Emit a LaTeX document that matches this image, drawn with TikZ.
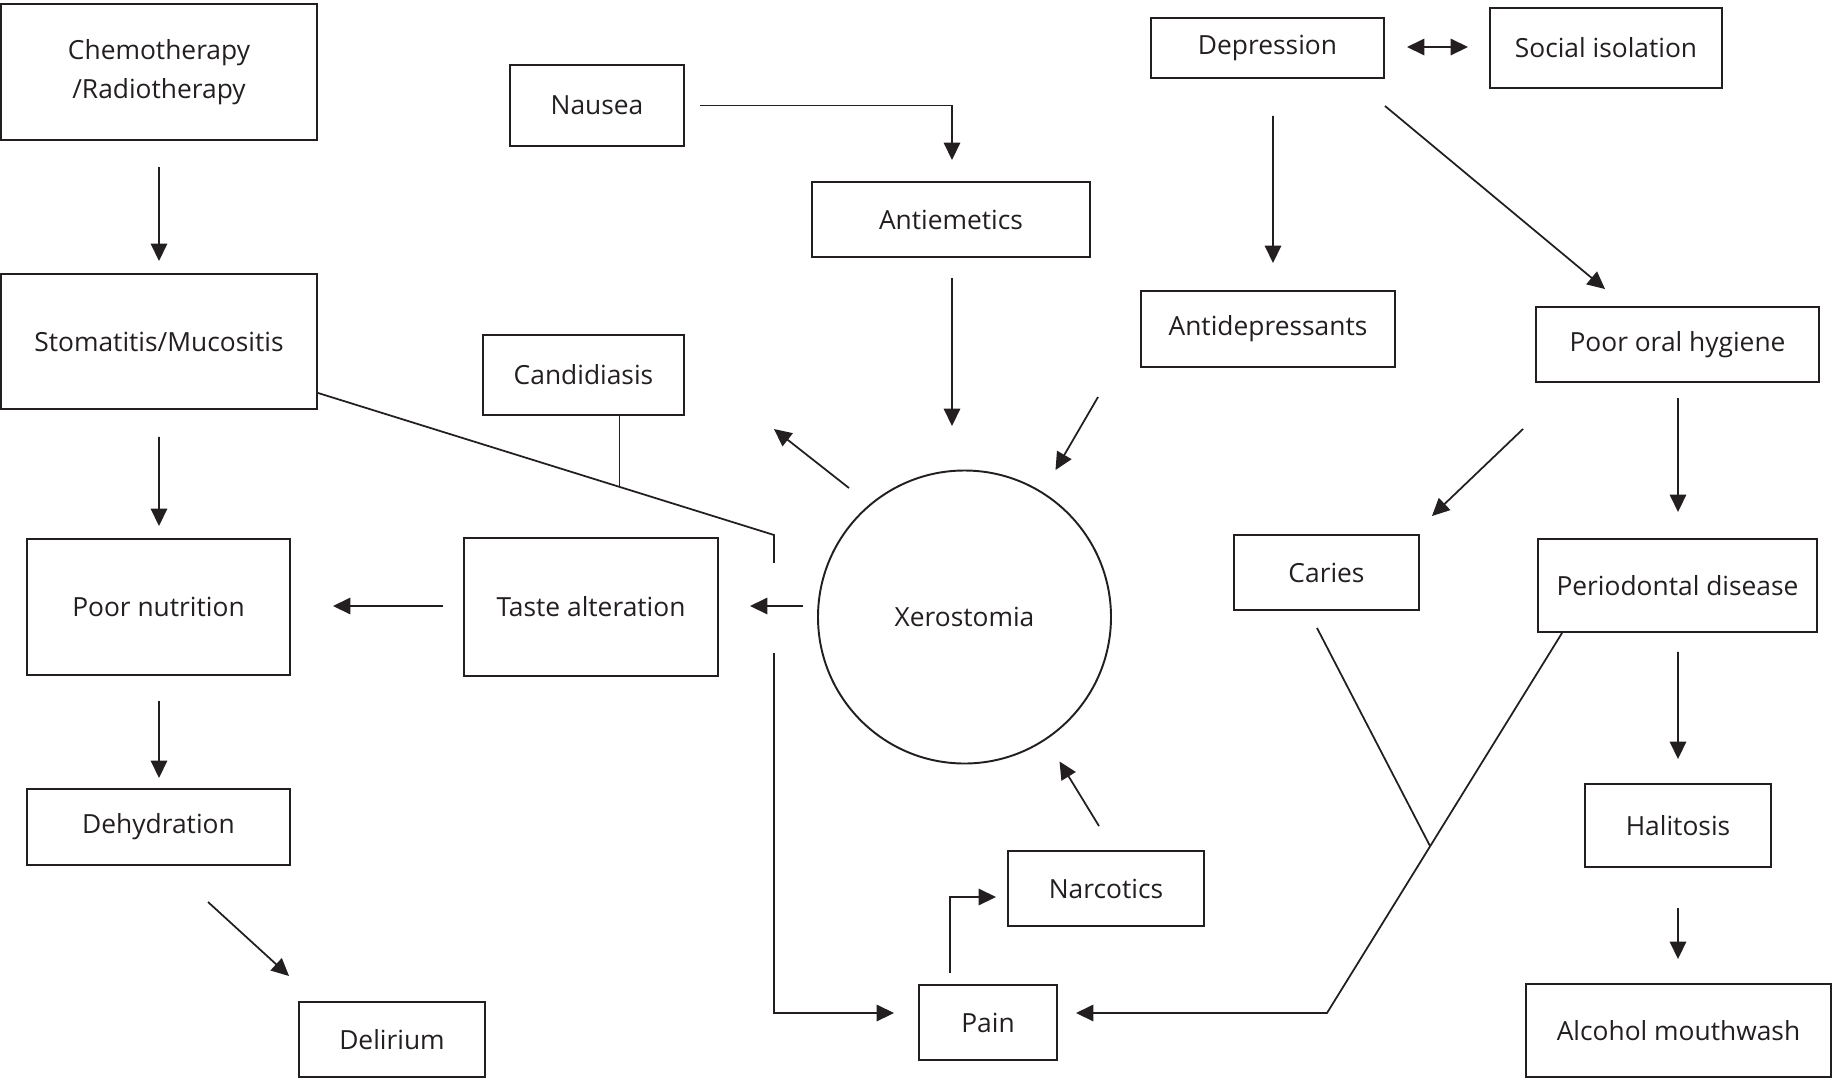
\documentclass[tikz,border=0pt]{standalone}
\usepackage{fontspec}
\setmainfont{Open Sans}
\usetikzlibrary{arrows.meta,calc}
\definecolor{ink}{HTML}{231F20}
\tikzset{
 box/.style={draw=ink, line width=1.1pt, inner sep=0pt, align=center, font=\fontsize{15}{22}\selectfont, text=ink},
 arr/.style={draw=ink, line width=1pt, -{Triangle[length=0.35cm,width=0.33cm]}},
 darr/.style={draw=ink, line width=1pt, {Triangle[length=0.35cm,width=0.33cm]}-{Triangle[length=0.35cm,width=0.33cm]}},
 ln/.style={draw=ink, line width=1pt},
}
\newcommand\bx[6]{\node[box, minimum width={(#4-#2)*0.02cm}, minimum height={(#5-#3)*0.02cm}] (#1) at ({(#2+#4)/2},{(#3+#5)/2}) {#6};}
\begin{document}
\begin{tikzpicture}[x=0.02cm,y=-0.02cm]
\useasboundingbox (0,0) rectangle (1833,1079);
% boxes
\bx{chemo}{1}{4}{317}{140}{Chemotherapy\\/Radiotherapy}
\bx{stom}{1}{274}{317}{409}{Stomatitis/Mucositis}
\bx{nutr}{27}{539}{290}{675}{Poor nutrition}
\bx{dehy}{27}{789}{290}{865}{Dehydration}
\bx{deli}{299}{1002}{485}{1077}{Delirium}
\bx{naus}{510}{65}{684}{146}{Nausea}
\bx{anti}{812}{182}{1090}{257}{Antiemetics}
\bx{cand}{483}{335}{684}{415}{Candidiasis}
\bx{taste}{464}{538}{718}{676}{Taste alteration}
\node[box, circle, minimum size={293*0.02cm}] (xero) at (964.5,617) {Xerostomia};
\bx{dep}{1151}{18}{1384}{78}{Depression}
\bx{soc}{1490}{8}{1722}{88}{Social isolation}
\bx{adep}{1141}{291}{1395}{367}{Antidepressants}
\bx{poh}{1536}{307}{1819}{382}{Poor oral hygiene}
\bx{car}{1234}{535}{1419}{610}{Caries}
\bx{perio}{1538}{539}{1817}{632}{Periodontal disease}
\bx{hali}{1585}{784}{1771}{867}{Halitosis}
\bx{alc}{1526}{984}{1831}{1077}{Alcohol mouthwash}
\bx{narc}{1008}{851}{1204}{926}{Narcotics}
\bx{pain}{919}{985}{1057}{1060}{Pain}
% left column
\draw[arr] ($(chemo.south)+(0,26)$) -- ($(stom.north)+(0,-12)$);
\draw[arr] ($(stom.south)+(0,27)$) -- ($(nutr.north)+(0.5,-12)$);
\draw[arr] ($(nutr.south)+(0.5,25)$) -- ($(dehy.north)+(0.5,-10)$);
\draw[arr] ($(dehy.south)+(49.5,36)$) -- ($(deli.north west)+(-9,-25)$);
\draw[arr] ($(taste.west)+(-20,-1)$) -- ($(nutr.east)+(42,-1)$);
\draw[arr] ($(xero.west)+(-14,-11)$) -- ($(taste.east)+(31,-1)$);
% stomatitis / candidiasis lines
\coordinate (kink) at ($(stom.south east)+(456,125)$);
\draw[ln] ($(stom.south east)+(0,-17)$) -- (kink) -- ($(kink)+(0,28)$);
\draw[ln] ($(cand.south)+(36,0)$) -- ($(cand.south)+(36,71)$);
\draw[arr] ($(kink)+(0,118)$) |- ($(pain.west)+(-24,-9.5)$);
% nausea etc
\draw[arr] ($(naus.east)+(15,0)$) -| ($(anti.north)+(1,-21)$);
\draw[arr] ($(anti.south)+(1,20)$) -- ($(xero.north)+(-12.5,-43.5)$);
\draw[arr] ($(xero.north)+(-115.5,18.5)$) -- ($(cand.east)+(89,54)$);
\draw[arr] ($(adep.south west)+(-42,29)$) -- ($(xero.north)+(91,0.5)$);
\draw[arr] ($(narc.north)+(-7,-24)$) -- ($(xero.south)+(95,-3)$);
\draw[arr] ($(pain.north)+(-38,-11)$) |- ($(narc.west)+(-11,8.5)$);
% right side
\draw[darr] ($(dep.east)+(22,-1)$) -- ($(soc.west)+(-21,-1)$);
\draw[arr] ($(dep.south)+(5.5,37)$) -- ($(adep.north)+(5,-27)$);
\draw[arr] ($(dep.south east)+(0,27)$) -- ($(poh.north west)+(70,-17)$);
\draw[arr] ($(poh.south west)+(-12,46)$) -- ($(car.north east)+(12,-18)$);
\draw[arr] ($(poh.south)+(0.5,15)$) -- ($(perio.north)+(0.5,-26)$);
\draw[arr] ($(perio.south)+(0.5,19)$) -- ($(hali.north)+(0,-24)$);
\draw[arr] ($(hali.south)+(0,40)$) -- ($(alc.north)+(-0.5,-24)$);
\coordinate (meet) at (1430,846);
\draw[ln] ($(car.south)+(-9.5,17)$) -- (meet);
\draw[arr] ($(perio.south west)+(25,0)$) -- (1327,1013) -- ($(pain.east)+(18,-9.5)$);
\end{tikzpicture}
\end{document}
